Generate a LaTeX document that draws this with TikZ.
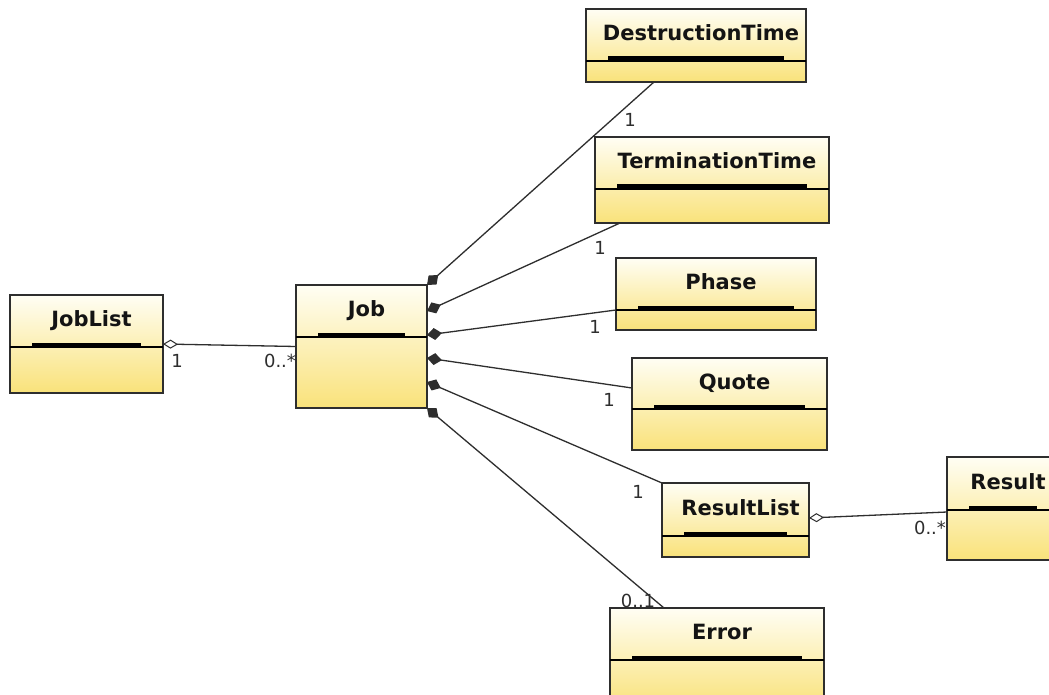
\documentclass[tikz,border=0pt]{standalone}
\usepackage{fontspec}
\setmainfont{DejaVu Sans}
\usetikzlibrary{arrows.meta,calc}
\definecolor{boxtop}{HTML}{FFFEF4}
\definecolor{boxbot}{HTML}{F9E27A}
\definecolor{edge}{HTML}{2E2E2E}
\tikzset{
 classbox/.style={draw=edge, line width=1.3pt, top color=boxtop, bottom color=boxbot, inner sep=0pt, outer sep=0pt},
 divline/.style={draw=black, line width=1.8pt},
 titlebar/.style={fill=black},
 titletext/.style={font=\fontsize{21}{24}\selectfont\bfseries, text=black!92, inner sep=0pt, text height=15pt, text depth=4pt},
 mult/.style={font=\fontsize{18}{21}\selectfont, text=edge, inner sep=0pt},
 assoc/.style={draw=edge, line width=1.3pt},
 agg/.style={assoc, {Diamond[open, length=15pt, width=9pt, line width=1pt]}-},
 comp/.style={assoc, {Diamond[length=15pt, width=12pt]}-},
}
\newcommand{\umlclass}[7]{%
 \node[classbox, anchor=north west, minimum width=#4pt, minimum height=#5pt] (#1) at (#2,#3) {};
 \fill[titlebar] ($(#1.north west)+(22,#6-4.5)$) rectangle ($(#1.north east)+(-22,#6)$);
 \draw[divline] ($(#1.north west)+(0,#6)$) -- ($(#1.north east)+(0,#6)$);
 \node[titletext] (#1-title) at ($(#1.north)+(5,#6/2)$) {#7};
}
\begin{document}
\begin{tikzpicture}[x=1pt,y=-1pt]
\useasboundingbox (0,0) rectangle (1049,695);
\fill[white] (0,0) rectangle (1049,695);
\clip (0,0) rectangle (1049,695);

\umlclass{joblist}{10}{295}{153}{98}{52}{JobList}
\umlclass{job}{296}{285}{131}{123}{52}{Job}
\umlclass{dt}{586}{9}{220}{73}{52}{DestructionTime}
\umlclass{tt}{595}{137}{234}{86}{52}{TerminationTime}
\umlclass{ph}{616}{258}{200}{72}{52}{Phase}
\umlclass{qu}{632}{358}{195}{92}{51}{Quote}
\umlclass{rl}{662}{483}{147}{74}{53}{ResultList}
\umlclass{res}{947}{457}{112}{103}{53}{Result}
\umlclass{er}{610}{608}{214}{100}{52}{Error}

% connection points
\coordinate (j1) at (job.north east);
\coordinate (j2) at ($(job.north east)+(0,26)$);
\coordinate (j3) at ($(job.north east)+(0,50)$);
\coordinate (j4) at ($(job.north east)+(0,73)$);
\coordinate (j5) at ($(job.north east)+(0,97)$);
\coordinate (j6) at (job.south east);
\coordinate (dt-in) at ($(dt.south west)+(68,0)$);
\coordinate (tt-in) at ($(tt.south west)+(25,0)$);
\coordinate (ph-in) at ($(ph.north west)+(0,52)$);
\coordinate (qu-in) at ($(qu.north west)+(0,30)$);
\coordinate (rl-in) at (rl.north west);
\coordinate (er-in) at ($(er.north west)+(54,0)$);
\coordinate (rl-out) at ($(rl.north east)+(0,35)$);
\coordinate (res-in) at ($(res.north west)+(0,55)$);

\draw[agg] (joblist.east) -- (job.west);
\draw[comp] (j1) -- (dt-in);
\draw[comp] (j2) -- (tt-in);
\draw[comp] (j3) -- (ph-in);
\draw[comp] (j4) -- (qu-in);
\draw[comp] (j5) -- (rl-in);
\draw[comp] (j6) -- (er-in);
\draw[agg] (rl-out) -- (res-in);

\node[mult] (m1) at (177,361) {1};
\node[mult] (m2) at (280,361) {0..*};
\node[mult] (m3) at (630,120) {1};
\node[mult] (m4) at (600,248) {1};
\node[mult] (m5) at (595,327) {1};
\node[mult] (m6) at (609,400) {1};
\node[mult] (m7) at (638,492) {1};
\node[mult] (m8) at (638,601) {0..1};
\node[mult] (m9) at (930,528) {0..*};
\end{tikzpicture}
\end{document}
